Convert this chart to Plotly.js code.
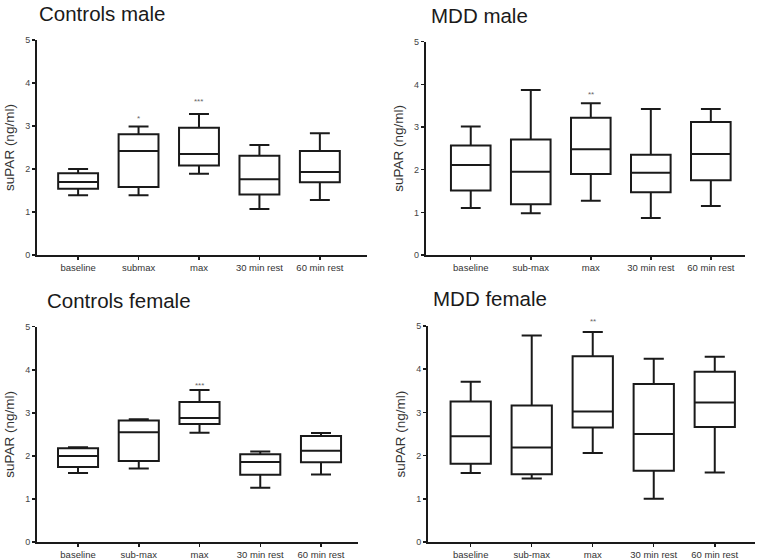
<!DOCTYPE html>
<html>
<head>
<meta charset="utf-8">
<script src="https://cdn.plot.ly/plotly-3.0.1.min.js"></script>
<style>html,body{margin:0;padding:0;background:#fff;}#chart{width:757px;height:560px;}</style>
</head>
<body>
<div id="chart"></div>
<script>
// ---- data ----
const catsControlsMale = ["baseline", "submax", "max", "30 min rest", "60 min rest"];
const catsOther = ["baseline", "sub-max", "max", "30 min rest", "60 min rest"];
const panelTitles = ["Controls male", "MDD male", "Controls female", "MDD female"];
const yTickVals = [0, 1, 2, 3, 4, 5];

// Controls male
const cmLow = [1.39, 1.39, 1.89, 1.07, 1.28];
const cmQ1 = [1.54, 1.58, 2.08, 1.41, 1.69];
const cmMed = [1.70, 2.42, 2.35, 1.76, 1.93];
const cmQ3 = [1.90, 2.81, 2.96, 2.31, 2.42];
const cmHigh = [2.00, 2.99, 3.28, 2.56, 2.83];

// MDD male
const mmLow = [1.10, 0.98, 1.27, 0.87, 1.15];
const mmQ1 = [1.51, 1.19, 1.90, 1.47, 1.75];
const mmMed = [2.11, 1.95, 2.48, 1.93, 2.37];
const mmQ3 = [2.57, 2.71, 3.22, 2.35, 3.12];
const mmHigh = [3.01, 3.87, 3.56, 3.42, 3.42];

// Controls female
const cfLow = [1.60, 1.71, 2.54, 1.26, 1.57];
const cfQ1 = [1.74, 1.88, 2.74, 1.56, 1.85];
const cfMed = [2.00, 2.55, 2.88, 1.86, 2.12];
const cfQ3 = [2.18, 2.82, 3.25, 2.04, 2.46];
const cfHigh = [2.20, 2.85, 3.53, 2.10, 2.53];

// MDD female
const mfLow = [1.60, 1.47, 2.06, 1.00, 1.61];
const mfQ1 = [1.81, 1.57, 2.65, 1.65, 2.66];
const mfMed = [2.45, 2.19, 3.02, 2.50, 3.23];
const mfQ3 = [3.25, 3.16, 4.30, 3.66, 3.94];
const mfHigh = [3.71, 4.78, 4.86, 4.24, 4.29];

// significance markers
const sigCM = [{cat: "submax", y: 3.18, text: "*"}, {cat: "max", y: 3.57, text: "***"}];
const sigMM = [{cat: "max", y: 3.77, text: "**"}];
const sigCF = [{cat: "max", y: 3.64, text: "***"}];
const sigMF = [{cat: "max", y: 5.1, text: "**"}];

// ---- build ----
function boxTrace(cats, low, q1, med, q3, high, xa, ya) {
  return {
    type: "box", x: cats, lowerfence: low, q1: q1, median: med, q3: q3, upperfence: high,
    xaxis: xa, yaxis: ya, width: 0.66, whiskerwidth: 0.5,
    line: {color: "#1a1a1a", width: 2}, fillcolor: "rgba(255,255,255,0)",
    boxpoints: false, showlegend: false, hoverinfo: "skip"
  };
}
const data = [
  boxTrace(catsControlsMale, cmLow, cmQ1, cmMed, cmQ3, cmHigh, "x", "y"),
  boxTrace(catsOther, mmLow, mmQ1, mmMed, mmQ3, mmHigh, "x2", "y2"),
  boxTrace(catsOther, cfLow, cfQ1, cfMed, cfQ3, cfHigh, "x3", "y3"),
  boxTrace(catsOther, mfLow, mfQ1, mfMed, mfQ3, mfHigh, "x4", "y4")
];

const font = "Liberation Sans, Arial, sans-serif";
const yMax = 5;
function xAxis(domain, range, anchor) {
  return {
    domain: domain, range: range, anchor: anchor, type: "category",
    showline: true, linecolor: "#1a1a1a", linewidth: 2, showgrid: false, zeroline: false,
    ticks: "outside", ticklen: 3, tickwidth: 1.5, tickcolor: "#1a1a1a",
    tickfont: {family: font, size: 9.5, color: "#333"}
  };
}
function yAxis(domain, anchor) {
  return {
    domain: domain, range: [0, yMax], anchor: anchor, tickvals: yTickVals,
    showline: true, linecolor: "#1a1a1a", linewidth: 2, showgrid: false, zeroline: false,
    ticks: "outside", ticklen: 3, tickwidth: 1.5, tickcolor: "#1a1a1a",
    tickfont: {family: font, size: 9, color: "#444"},
    title: {text: "suPAR (ng/ml)", font: {family: font, size: 13.5, color: "#333"}, standoff: 7}
  };
}

const annotations = [];
const titlePos = [[37, 13], [429, 15], [45, 300], [431, 298]];
panelTitles.forEach((t, i) => {
  annotations.push({
    text: t, xref: "paper", yref: "paper", x: titlePos[i][0] / 757, y: 1 - titlePos[i][1] / 560,
    xanchor: "left", yanchor: "middle", showarrow: false,
    font: {family: font, size: 20.5, color: "#1a1a1a"}
  });
});
[[sigCM, "x", "y"], [sigMM, "x2", "y2"], [sigCF, "x3", "y3"], [sigMF, "x4", "y4"]].forEach(([arr, xa, ya]) => {
  arr.forEach(s => annotations.push({
    text: s.text, xref: xa, yref: ya + " domain", x: s.cat, y: s.y / yMax, showarrow: false,
    font: {family: font, size: 8, color: "#666"}, yanchor: "middle"
  }));
});

const layout = {
  width: 757, height: 560, margin: {l: 0, r: 0, t: 0, b: 0},
  paper_bgcolor: "#fff", plot_bgcolor: "rgba(0,0,0,0)", showlegend: false,
  xaxis: xAxis([0.0489, 0.4848], [-0.68, 4.78], "y"),
  yaxis: yAxis([0.5446, 0.9286], "x"),
  xaxis2: xAxis([0.5624, 0.9842], [-0.75, 4.57], "y2"),
  yaxis2: yAxis([0.5446, 0.9255], "x2"),
  xaxis3: xAxis([0.0489, 0.473], [-0.675, 4.61], "y3"),
  yaxis3: yAxis([0.0321, 0.4166], "x3"),
  xaxis4: xAxis([0.5654, 0.9974], [-0.7, 4.66], "y4"),
  yaxis4: yAxis([0.0321, 0.4179], "x4"),
  annotations: annotations
};

Plotly.newPlot("chart", data, layout, {displayModeBar: false, staticPlot: true});
</script>
</body>
</html>
